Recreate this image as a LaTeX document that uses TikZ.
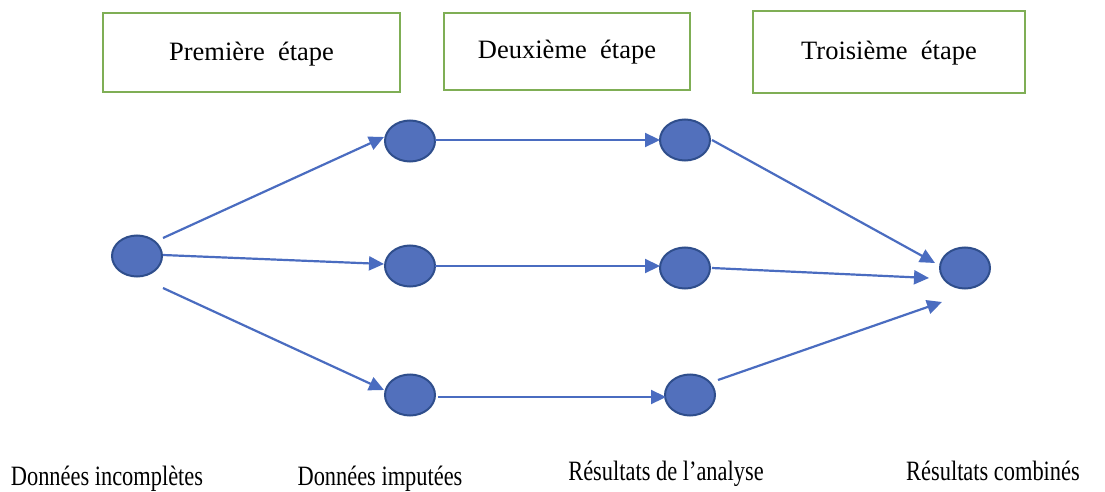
\documentclass[tikz,border=0pt]{standalone}
\usepackage{fontspec}
\setmainfont{Liberation Serif}
\usetikzlibrary{arrows.meta,shapes.geometric}
\definecolor{nodefill}{HTML}{5270BC}
\definecolor{nodeline}{HTML}{2F4E8C}
\definecolor{arrowc}{HTML}{4A6CC0}
\definecolor{boxgreen}{HTML}{7FAE55}
\tikzset{
  dot/.style={ellipse,draw=nodeline,fill=nodefill,line width=2pt,minimum width=50pt,minimum height=41pt,inner sep=0pt},
  stage/.style={draw=boxgreen,line width=1.8pt},
  stagetext/.style={font=\fontsize{26.5}{30}\selectfont},
  flow/.style={draw=arrowc,line width=2.2pt,-{Triangle[length=15pt,width=14pt]}},
  lab/.style={font=\fontsize{28}{32}\selectfont,anchor=base,inner sep=0pt}
}
\begin{document}
\begin{tikzpicture}[x=1pt,y=-1pt]
\useasboundingbox (0,0) rectangle (1105,492);
\draw[stage] (103,13) rectangle (400,92);
\node[stagetext] (s1) at (251.5,54) {Première\ \ étape};
\draw[stage] (444,13) rectangle (690,90);
\node[stagetext] (s2) at (567,52) {Deuxième\ \ étape};
\draw[stage] (753,11) rectangle (1025,93);
\node[stagetext] (s3) at (889,53) {Troisième\ \ étape};
\node[dot] (a) at (137,256) {};
\node[dot] (b1) at (410,141) {};
\node[dot] (b2) at (410,266) {};
\node[dot] (b3) at (410,395) {};
\node[dot] (c1) at (685,140) {};
\node[dot] (c2) at (685,268) {};
\node[dot] (c3) at (690,395) {};
\node[dot] (d) at (965,268) {};
\coordinate (ea1) at (163,238); \coordinate (ea2) at (163,255); \coordinate (ea3) at (163,288);
\coordinate (tb1) at (384,137); \coordinate (tb2) at (384,264); \coordinate (tb3) at (384,390);
\coordinate (eb1) at (435,140); \coordinate (eb2) at (435,266); \coordinate (eb3) at (438,397);
\coordinate (tc1) at (660,140); \coordinate (tc2) at (660,266); \coordinate (tc3) at (666,397);
\coordinate (ec1) at (712,140); \coordinate (ec2) at (712,268); \coordinate (ec3) at (718,380);
\coordinate (td1) at (935,263); \coordinate (td2) at (929,278); \coordinate (td3) at (942,302);
\draw[flow] (ea1) -- (tb1);
\draw[flow] (ea2) -- (tb2);
\draw[flow] (ea3) -- (tb3);
\draw[flow] (eb1) -- (tc1);
\draw[flow] (eb2) -- (tc2);
\draw[flow] (eb3) -- (tc3);
\draw[flow] (ec1) -- (td1);
\draw[flow] (ec2) -- (td2);
\draw[flow] (ec3) -- (td3);
\node[lab] (l1) at (107,485) {\scalebox{0.8}[1]{Données incomplètes}};
\node[lab] (l2) at (380,485) {\scalebox{0.8}[1]{Données imputées}};
\node[lab] (l3) at (666,480) {\scalebox{0.8}[1]{Résultats de l’analyse}};
\node[lab] (l4) at (993,480) {\scalebox{0.8}[1]{Résultats combinés}};
\end{tikzpicture}
\end{document}
